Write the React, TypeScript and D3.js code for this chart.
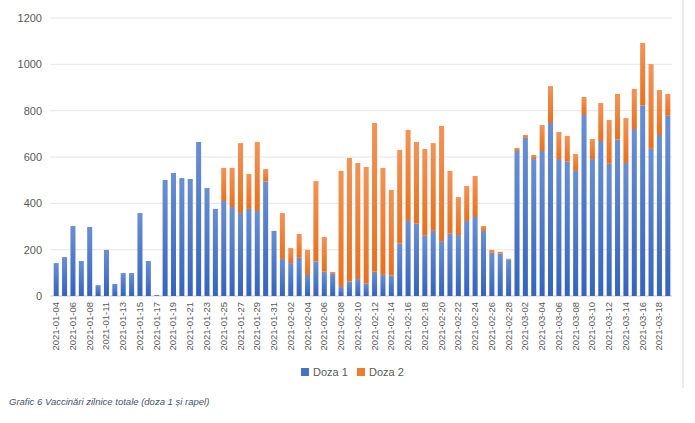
import * as d3 from "d3";

const dates: string[] = [
  ...["04", "05", "06", "07", "08", "09"].map(d => `2021-01-${d}`),
  ...d3.range(11, 32).map(d => `2021-01-${String(d).padStart(2, "0")}`),
  ...d3.range(1, 29).map(d => `2021-02-${String(d).padStart(2, "0")}`),
  ...d3.range(1, 20).map(d => `2021-03-${String(d).padStart(2, "0")}`),
];

const doza1 = [
  142, 168, 302, 151, 298, 47, 199, 52, 99, 99, 358, 151, 4, 501, 531, 509, 505, 665, 466, 376,
  410, 384, 358, 376, 367, 494, 281,
  160, 142, 165, 91, 148, 105, 96, 39, 62, 73, 53, 105, 91, 88, 226, 324, 312, 260, 281, 237,
  269, 263, 324, 341, 281, 187, 183, 158,
  626, 683, 591, 626, 747, 591, 580, 540, 781, 591, 669, 571, 675, 574, 721, 822, 635, 695, 778,
];

const total = [
  142, 168, 302, 151, 298, 47, 199, 52, 99, 99, 358, 151, 4, 501, 531, 509, 505, 665, 466, 376,
  553, 553, 660, 527, 665, 548, 281,
  358, 207, 268, 199, 496, 255, 104, 540, 596, 574, 557, 747, 553, 458, 630, 717, 665, 635, 660, 734,
  540, 427, 475, 518, 302, 199, 191, 161,
  639, 695, 609, 738, 906, 708, 691, 613, 859, 678, 833, 760, 872, 768, 894, 1092, 1001, 889, 872,
];

const yTicks = [0, 200, 400, 600, 800, 1000, 1200];
const series = ["Doza 1", "Doza 2"];
const colors = ["#4472C4", "#ED7D31"];

export default function App() {
  const W = 695, H = 423;
  const x = d3.scaleBand<string>().domain(dates).range([52, 672]).paddingInner(0.4).paddingOuter(0.2);
  const y = d3.scaleLinear().domain([0, 1200]).range([296, 18]);
  const font = "'Liberation Sans', Arial, sans-serif";

  return (
    <svg width={W} height={H} style={{ position: "absolute", left: 0, top: 0, background: "#fff" }}>
      <defs>
        <linearGradient id="gb" x1="0" y1="0" x2="0" y2="1">
          <stop offset="0" stopColor="#6A8FD3" />
          <stop offset="1" stopColor="#3563BE" />
        </linearGradient>
        <linearGradient id="go" x1="0" y1="0" x2="0" y2="1">
          <stop offset="0" stopColor="#F29458" />
          <stop offset="1" stopColor="#E8701F" />
        </linearGradient>
      </defs>
      <line x1={683} x2={683} y1={0} y2={388} stroke="#D9D9D9" />
      {yTicks.map(t => (
        <g key={t}>
          <line x1={50} x2={672} y1={y(t)} y2={y(t)} stroke={t === 0 ? "#D0D0D0" : "#E6E6E6"} />
          <text x={42} y={y(t) + 4} textAnchor="end" fontSize={11} fill="#595959" fontFamily={font}>{t}</text>
        </g>
      ))}
      {dates.map((d, i) => (
        <g key={d}>
          <rect x={x(d)} width={x.bandwidth()} y={y(doza1[i])} height={y(0) - y(doza1[i])} fill="url(#gb)" />
          {total[i] > doza1[i] && (
            <rect x={x(d)} width={x.bandwidth()} y={y(total[i])} height={y(doza1[i]) - y(total[i])} fill="url(#go)" />
          )}
        </g>
      ))}
      {dates.map((d, i) => i % 2 === 0 && (
        <text key={d} transform={`translate(${x(d)! + x.bandwidth() / 2 + 3},${302}) rotate(-90)`}
          textAnchor="end" fontSize={9.5} fill="#595959" fontFamily={font}>{d}</text>
      ))}
      {series.map((s, i) => (
        <g key={s} transform={`translate(${301 + i * 56},${368})`}>
          <rect width={8} height={8} fill={colors[i]} />
          <text x={12} y={8} fontSize={11} fill="#595959" fontFamily={font}>{s}</text>
        </g>
      ))}
      <text x={9} y={405} fontSize={9.5} fontStyle="italic" fill="#44546A" fontFamily={font}>
        Grafic  6 Vaccinări zilnice totale (doza 1 și rapel)
      </text>
    </svg>
  );
}
